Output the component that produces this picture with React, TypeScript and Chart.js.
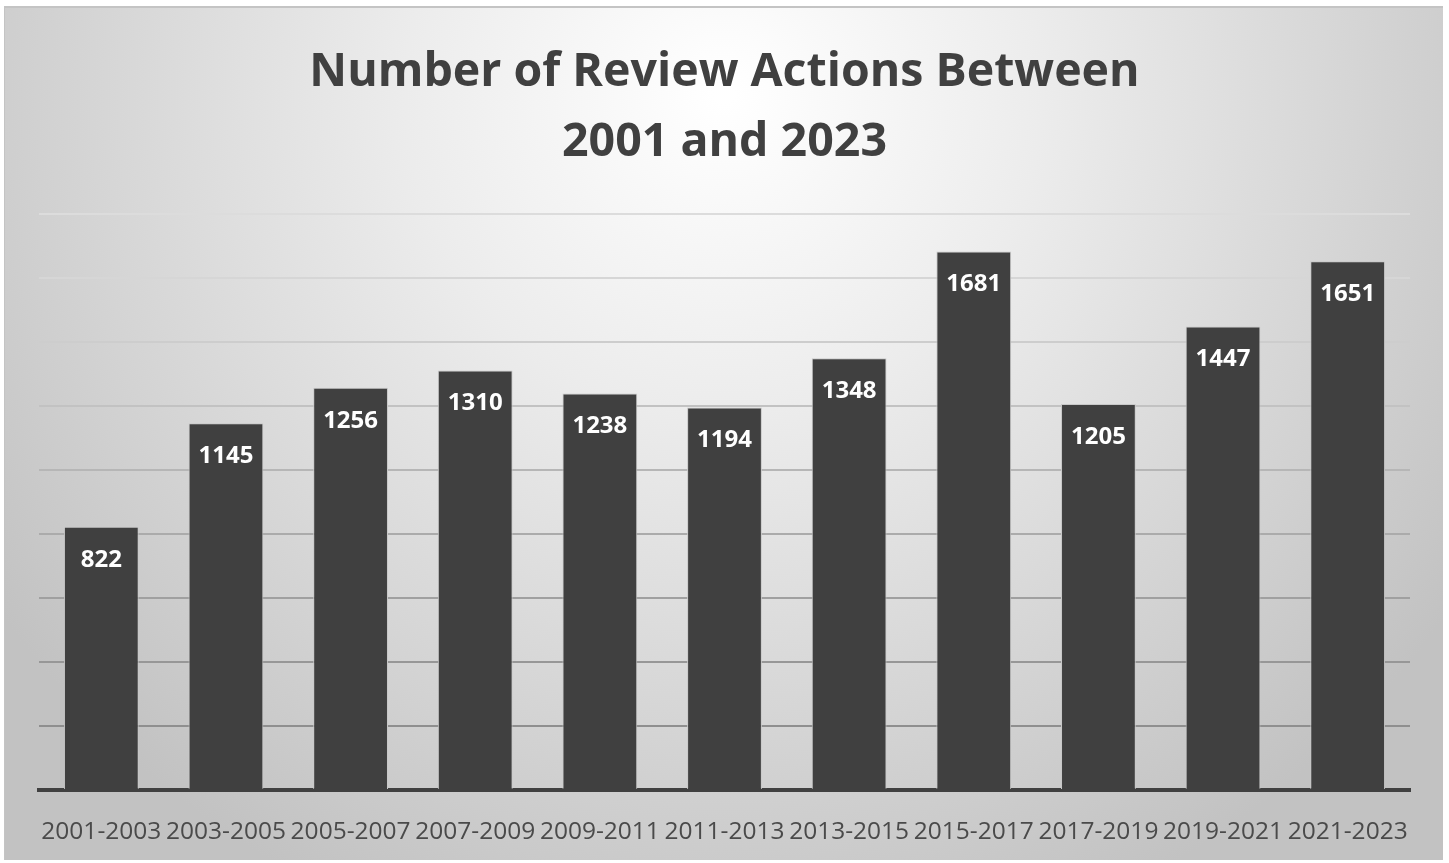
import React, { useEffect, useRef } from "react";
import { Chart, registerables } from "chart.js";

Chart.register(...registerables);

const categories = [
  "2001-2003", "2003-2005", "2005-2007", "2007-2009", "2009-2011", "2011-2013",
  "2013-2015", "2015-2017", "2017-2019", "2019-2021", "2021-2023",
];
const reviewActions = [822, 1145, 1256, 1310, 1238, 1194, 1348, 1681, 1205, 1447, 1651];
const titleLines = ["Number of Review Actions Between", "2001 and 2023"];
const yMax = 1800;
const yStep = 200;

const FONT = "'Open Sans', 'DejaVu Sans', sans-serif";

const bgPlugin = {
  id: "bgGradient",
  beforeDraw(chart: any) {
    const { ctx, width, height } = chart;
    ctx.save();
    const g = ctx.createRadialGradient(width * 0.5, height * 0.1, 10, width * 0.5, height * 0.1, width * 0.62);
    g.addColorStop(0, "#ffffff");
    g.addColorStop(0.35, "#ececec");
    g.addColorStop(1, "#c2c2c2");
    ctx.fillStyle = g;
    ctx.fillRect(0, 0, width, height);
    ctx.restore();
  },
};

const labelPlugin = {
  id: "barLabels",
  afterDatasetsDraw(chart: any) {
    const { ctx } = chart;
    const meta = chart.getDatasetMeta(0);
    ctx.save();
    ctx.fillStyle = "#ffffff";
    ctx.font = `bold 24px ${FONT}`;
    ctx.textAlign = "center";
    ctx.textBaseline = "middle";
    meta.data.forEach((bar: any, i: number) => {
      ctx.fillText(String(reviewActions[i]), bar.x, bar.y + 33);
    });
    ctx.restore();
  },
};

const gridColors = ["#404040", "#8f8f8f", "#979797", "#a0a0a0", "#ababab", "#b6b6b6", "#c2c2c2", "#cdcdcd", "#d6d6d6", "#dcdcdc"];

export default function App() {
  const ref = useRef<HTMLCanvasElement | null>(null);
  useEffect(() => {
    if (!ref.current) return;
    const chart = new Chart(ref.current, {
      type: "bar",
      data: {
        labels: categories,
        datasets: [
          {
            data: reviewActions,
            backgroundColor: "#404040",
            borderColor: "#c8c8c8",
            borderWidth: 1,
            categoryPercentage: 1,
            barPercentage: 0.6,
          },
        ],
      },
      options: {
        animation: false,
        responsive: false,
        devicePixelRatio: 1,
        layout: { padding: { left: 34, right: 33, top: 0, bottom: 0 } },
        plugins: {
          legend: { display: false },
          tooltip: { enabled: false },
          title: {
            display: true,
            text: titleLines,
            color: "#404040",
            font: { family: FONT, size: 46.5, weight: "bold", lineHeight: 1.5 },
            padding: { top: 30, bottom: 36 },
          },
        },
        scales: {
          x: {
            grid: { display: false, drawTicks: false },
            border: { display: true, color: "#404040", width: 4 },
            ticks: {
              color: "#4a4a4a",
              font: { family: FONT, size: 24.5 },
              padding: 27,
              autoSkip: false,
              maxRotation: 0,
              minRotation: 0,
            },
            afterFit: (scale: any) => {
              scale.height = 70;
            },
          },
          y: {
            min: 0,
            max: yMax,
            ticks: { display: false, stepSize: yStep },
            grid: {
              drawTicks: false,
              lineWidth: 2,
              color: (c: any) => gridColors[c.index] || "#d9d9d9",
            },
            border: { display: false },
          },
        },
      },
      plugins: [bgPlugin, labelPlugin],
    });
    return () => chart.destroy();
  }, []);

  return (
    <div style={{ position: "fixed", left: 0, top: 0, width: 1449, height: 863, background: "#ffffff" }}>
      <div style={{ position: "absolute", left: 4, top: 6, width: 1439, height: 854, borderTop: "2px solid #c4c4c4", borderLeft: "1px solid #c4c4c4", boxSizing: "border-box" }}>
        <canvas ref={ref} width={1438} height={852} style={{ display: "block" }} />
      </div>
    </div>
  );
}
